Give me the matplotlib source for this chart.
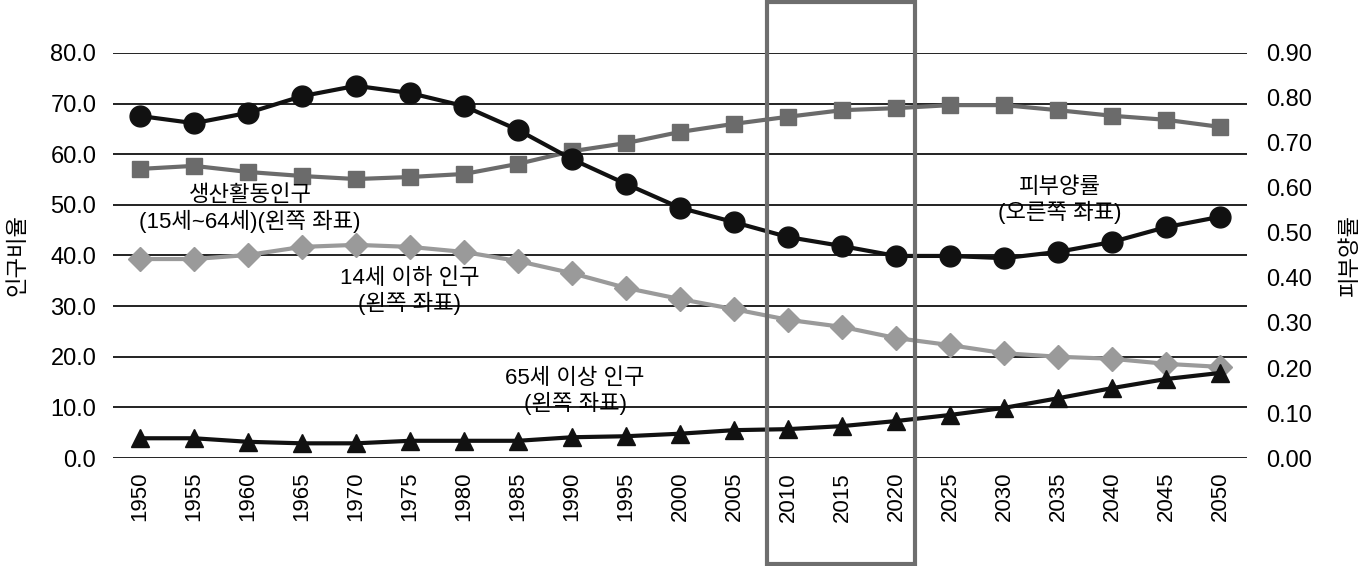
import matplotlib
matplotlib.use("Agg")
import matplotlib.pyplot as plt
from matplotlib.patches import Rectangle
from matplotlib import font_manager

years = [1950, 1955, 1960, 1965, 1970, 1975, 1980, 1985, 1990, 1995, 2000,
         2005, 2010, 2015, 2020, 2025, 2030, 2035, 2040, 2045, 2050]

# left axis (%)
working = [57.1, 57.7, 56.5, 55.7, 55.1, 55.5, 56.1, 58.1, 60.6, 62.2, 64.4,
           66.0, 67.4, 68.7, 69.1, 69.7, 69.7, 68.7, 67.6, 66.8, 65.4]
young = [39.3, 39.3, 40.1, 41.7, 42.1, 41.7, 40.7, 38.9, 36.5, 33.6, 31.4,
         29.4, 27.3, 25.9, 23.7, 22.3, 20.7, 20.0, 19.6, 18.6, 18.0]
old = [3.9, 3.9, 3.2, 2.9, 2.9, 3.4, 3.4, 3.4, 4.1, 4.3, 4.8,
       5.5, 5.7, 6.3, 7.3, 8.5, 9.9, 11.8, 13.8, 15.6, 16.8]
# right axis (ratio)
dependency = [0.760, 0.744, 0.767, 0.804, 0.827, 0.811, 0.782, 0.729, 0.664, 0.609, 0.556,
              0.524, 0.491, 0.471, 0.449, 0.449, 0.444, 0.458, 0.480, 0.513, 0.536]

avail = {f.name for f in font_manager.fontManager.ttflist}
narrow = "Liberation Sans Narrow" if "Liberation Sans Narrow" in avail else "Liberation Sans"
plt.rcParams['font.family'] = [narrow, 'Noto Sans CJK KR', 'DejaVu Sans']

fig = plt.figure(figsize=(13.63, 5.66), dpi=100)
ax = fig.add_axes([0.0829, 0.1908, 0.8320, 0.7156])
ax2 = ax.twinx()

x = list(range(len(years)))

ax.plot(x, working, color="#6b6b6b", lw=3, marker="s", ms=12, zorder=3)
ax.plot(x, young, color="#9a9a9a", lw=3, marker="D", ms=12, zorder=3)
ax.plot(x, old, color="#111111", lw=3, marker="^", ms=13, zorder=3)
ax2.plot(x, dependency, color="#111111", lw=3, marker="o", ms=15, zorder=3)

ax.set_xlim(-0.5, len(years) - 0.5)
ax.set_ylim(0, 80)
ax2.set_ylim(0, 0.9)
ax.set_yticks([0, 10, 20, 30, 40, 50, 60, 70, 80])
ax.set_yticklabels(["%.1f" % v for v in range(0, 90, 10)])
ax2.set_yticks([i / 10 for i in range(10)])
ax2.set_yticklabels(["%.2f" % (i / 10) for i in range(10)])
ax.set_xticks(x)
ax.set_xticklabels([str(y) for y in years], rotation=90)

ax.yaxis.grid(True, color="#111111", lw=1.3)
ax.set_axisbelow(True)
for a in (ax, ax2):
    for s in a.spines.values():
        s.set_visible(False)
    a.tick_params(length=0, labelsize=17)
ax.tick_params(axis="y", pad=12)
ax.tick_params(axis="x", pad=10, labelsize=16)
ax2.tick_params(axis="y", pad=14)

ax.set_ylabel("인구비율", fontsize=16, labelpad=16)
ax2.set_ylabel("피부양률", fontsize=16, rotation=90, labelpad=20)

ax.text(2.04, 49.2, "생산활동인구\n(15세~64세)(왼쪽 좌표)", ha="center", va="center",
        fontsize=16, linespacing=1.2)
ax.text(5.0, 32.9, "14세 이하 인구\n(왼쪽 좌표)", ha="center", va="center",
        fontsize=16, linespacing=1.15)
ax.text(8.06, 13.1, "65세 이상 인구\n(왼쪽 좌표)", ha="center", va="center",
        fontsize=16, linespacing=1.15)
ax.text(17.04, 50.9, "피부양률\n(오른쪽 좌표)", ha="center", va="center",
        fontsize=16, linespacing=1.15)

# highlight box around 2010-2020
fig.patches.append(Rectangle((767 / 1363, 2 / 566), 148 / 1363, 562 / 566,
                             transform=fig.transFigure, fill=False,
                             edgecolor="#6e6e6e", lw=3))

fig.savefig("out.png", dpi=100)
